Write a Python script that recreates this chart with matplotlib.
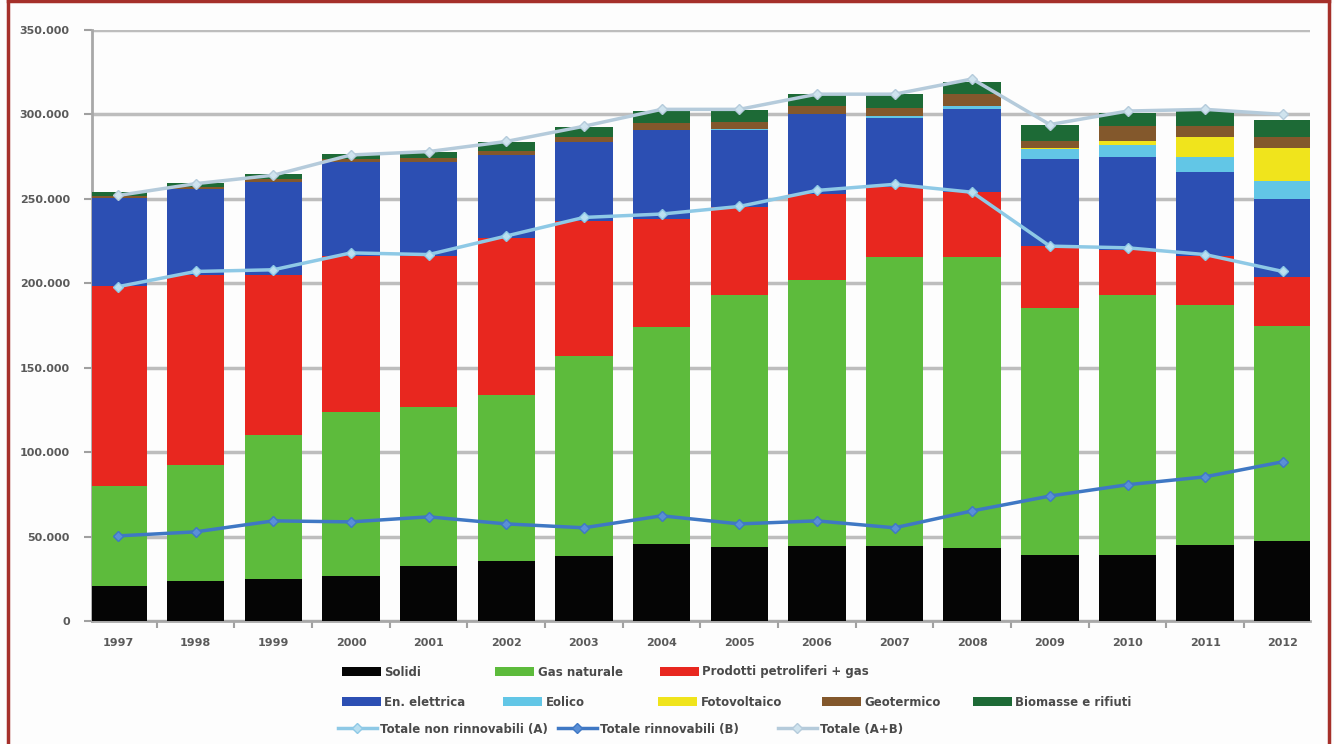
import numpy as np
import matplotlib.pyplot as plt
from matplotlib.ticker import FuncFormatter, MultipleLocator

years = ['1997', '1998', '1999', '2000', '2001', '2002', '2003', '2004',
         '2005', '2006', '2007', '2008', '2009', '2010', '2011', '2012']

# migliaia
solidi = [20.8, 23.7, 25.0, 26.7, 32.6, 35.6, 38.6, 45.7, 43.9, 44.5, 44.5, 43.3, 39.0, 39.0, 45.0, 47.4]
gas_nat = [59.3, 68.8, 85.0, 97.3, 94.4, 98.4, 118.4, 128.7, 148.9, 157.2, 170.8, 172.0, 146.6, 153.8, 142.4, 127.6]
petroliferi = [118.0, 112.5, 95.0, 92.0, 89.0, 93.0, 79.7, 63.6, 52.2, 51.0, 41.5, 38.6, 36.2, 27.2, 28.6, 29.0]
en_elettrica = [52.3, 50.6, 55.0, 56.0, 56.0, 49.0, 46.8, 53.0, 46.0, 47.3, 41.2, 49.1, 51.6, 55.0, 49.7, 45.7]
eolico = [0, 0, 0, 0, 0, 0, 0, 0, 0.5, 0.5, 1.0, 2.0, 6.0, 7.0, 9.0, 10.7]
fotovoltaico = [0, 0, 0, 0, 0, 0, 0, 0, 0, 0, 0, 0, 0.5, 2.0, 12.0, 20.0]
geotermico = [1.5, 1.5, 1.5, 1.5, 2.0, 2.5, 3.0, 4.0, 4.0, 4.5, 5.0, 7.0, 4.6, 9.0, 6.5, 6.0]
biomasse = [2.0, 2.0, 3.0, 3.0, 4.0, 5.0, 6.0, 7.0, 7.0, 7.0, 8.0, 7.0, 9.0, 8.0, 9.0, 10.5]

tot_a = [198, 207, 208, 218, 217, 228, 239, 241, 245.5, 255, 258.6, 253.9, 222, 221, 217, 207]
tot_b = [50.4, 52.8, 59.3, 58.7, 61.7, 57.5, 55.2, 62.3, 57.5, 59.3, 55.2, 65.2, 74.0, 80.7, 85.4, 94.3]
tot_ab = [252, 259, 264, 276, 278, 284, 293, 303, 303, 312, 312, 321, 294, 302, 303, 300]

stack = [
    ('Solidi', solidi, '#050505'),
    ('Gas naturale', gas_nat, '#5dbb3c'),
    ('Prodotti petroliferi + gas', petroliferi, '#e8271f'),
    ('En. elettrica', en_elettrica, '#2c4fb3'),
    ('Eolico', eolico, '#62c6e6'),
    ('Fotovoltaico', fotovoltaico, '#f0e41c'),
    ('Geotermico', geotermico, '#83582c'),
    ('Biomasse e rifiuti', biomasse, '#1d6a36'),
]

W, H = 1334, 744
fig = plt.figure(figsize=(W / 100, H / 100), dpi=100)
fig.patch.set_facecolor('#fdfdfd')
ax = fig.add_axes([92 / W, 1 - 621 / H, (1310 - 92) / W, (621 - 30) / H])
ax.set_facecolor('#fdfdfd')

x = np.arange(len(years))
k = 1000
bottom = np.zeros(len(years))
bar_handles = []
for name, vals, col in stack:
    v = np.array(vals) * k
    h = ax.bar(x, v, 0.74, bottom=bottom, color=col, label=name, zorder=3)
    bar_handles.append(h)
    bottom += v

la, = ax.plot(x, np.array(tot_a) * k, color='#8ec9e6', lw=2.5, marker='D', ms=5,
              mfc='#b9dff0', mec='#8ec9e6', label='Totale non rinnovabili (A)', zorder=4)
lb, = ax.plot(x, np.array(tot_b) * k, color='#3f78c4', lw=2.5, marker='D', ms=5,
              mfc='#5a8fd6', mec='#3f78c4', label='Totale rinnovabili (B)', zorder=4)
lab, = ax.plot(x, np.array(tot_ab) * k, color='#b5cbdb', lw=2.5, marker='D', ms=5,
               mfc='#cfe3ee', mec='#b5cbdb', label='Totale (A+B)', zorder=4)

ax.set_xlim(-0.335, len(years) - 1 + 0.35)
ax.set_ylim(0, 350000)
ax.yaxis.set_major_locator(MultipleLocator(50000))
ax.yaxis.set_major_formatter(FuncFormatter(lambda v, p: '0' if v == 0 else f'{int(v):,}'.replace(',', '.')))
ax.grid(axis='y', color='#bdbdbd', lw=2.5, zorder=0)
ax.set_xticks(x)
ax.set_xticklabels(years)
ax.set_xticks(np.arange(0.5, len(years) - 1), minor=True)
ax.tick_params(axis='x', which='major', length=0, pad=12)
ax.tick_params(axis='x', which='minor', length=5, color='#a0a0a0', width=1.5)
ax.tick_params(axis='y', length=6, color='#a0a0a0', width=1.5, pad=10)
for lbl in ax.get_xticklabels() + ax.get_yticklabels():
    lbl.set_fontsize(8)
    lbl.set_fontweight('bold')
    lbl.set_color('#5a5a5a')
for s in ['top', 'right']:
    ax.spines[s].set_visible(False)
for s in ['left', 'bottom']:
    ax.spines[s].set_color('#a8a8a8')
    ax.spines[s].set_linewidth(2)

# legenda: una voce alla volta, posizioni in pixel come nell'originale
leg_pos = [
    (bar_handles[0], 342, 672), (bar_handles[1], 495, 672), (bar_handles[2], 660, 672),
    (bar_handles[3], 342, 702), (bar_handles[4], 503, 702), (bar_handles[5], 658, 702),
    (bar_handles[6], 822, 702), (bar_handles[7], 973, 702),
    (la, 338, 729), (lb, 558, 729), (lab, 778, 729),
]
for h, px, py in leg_pos:
    leg = fig.legend(handles=[h], labels=[h.get_label()], loc='center left',
                     bbox_to_anchor=(px / W, 1 - py / H), frameon=False, fontsize=8.5,
                     handlelength=3.3, handleheight=0.9, handletextpad=0.3,
                     borderpad=0, borderaxespad=0)
    for t in leg.get_texts():
        t.set_color('#4a4a4a')
        t.set_fontweight('bold')

# cornice
fig.add_artist(plt.Line2D([0.006, 0.006], [0, 0.998], color='#a5302a', lw=2.5))
fig.add_artist(plt.Line2D([0.996, 0.996], [0, 0.998], color='#a5302a', lw=2.5))
fig.add_artist(plt.Line2D([0.006, 0.996], [0.998, 0.998], color='#a5302a', lw=2.5))

fig.savefig('out.png', dpi=100, facecolor=fig.get_facecolor())
